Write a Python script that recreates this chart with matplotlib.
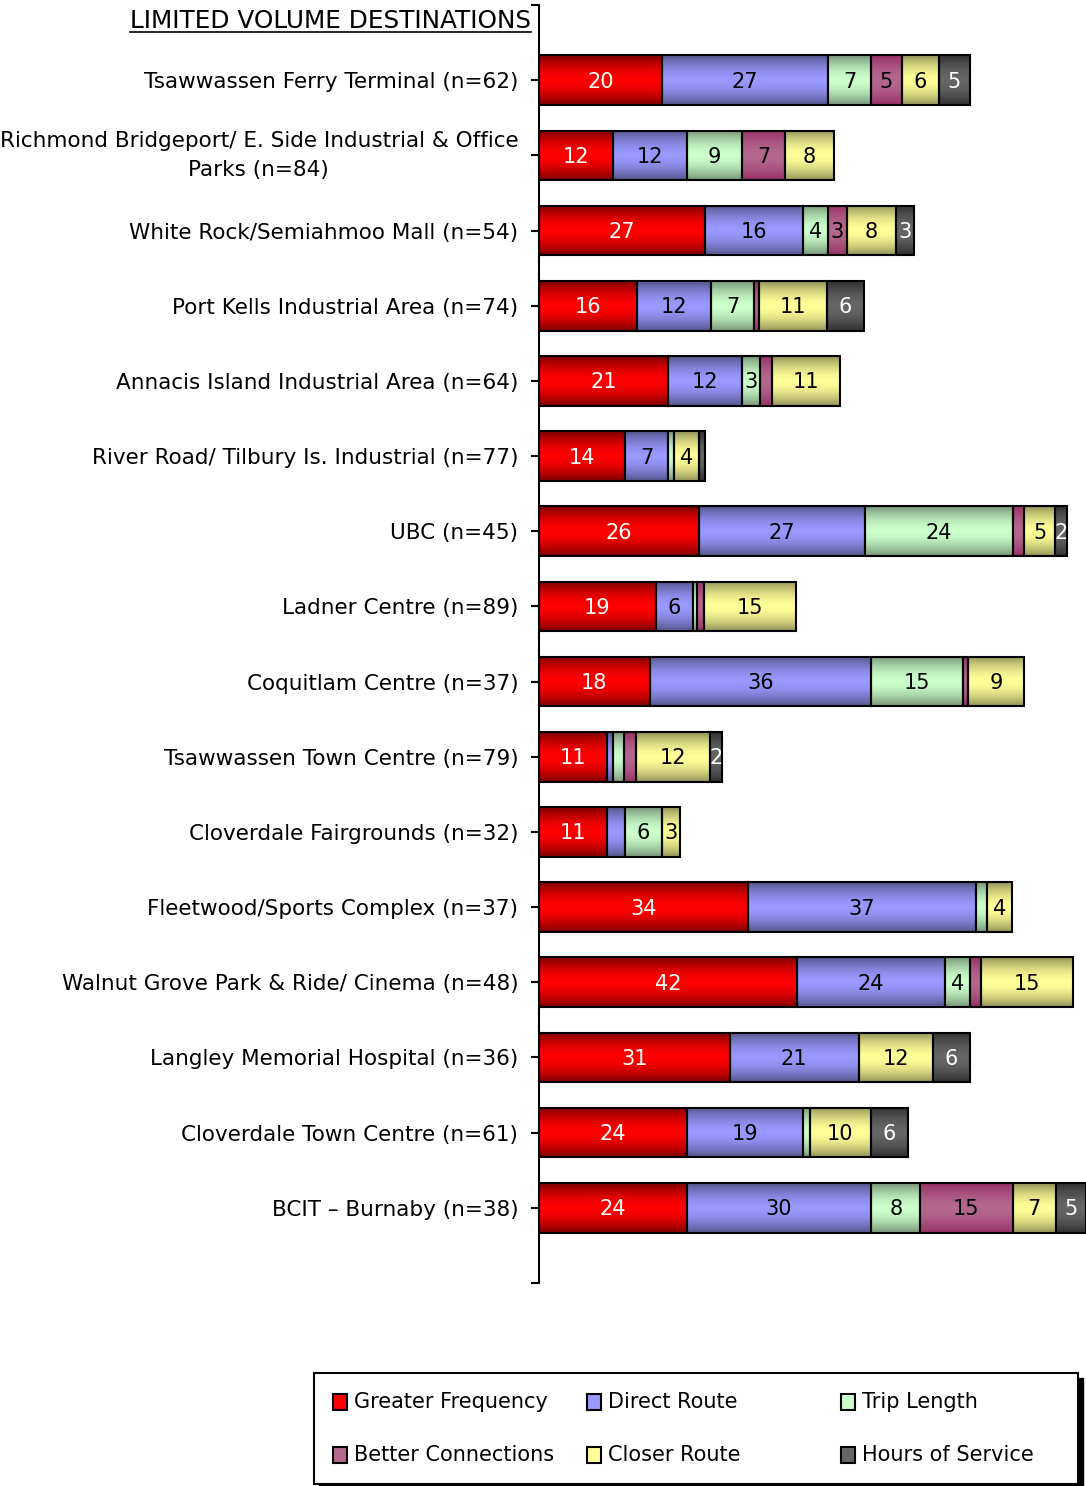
import numpy as np
import matplotlib.pyplot as plt
from matplotlib.patches import Rectangle
from matplotlib.lines import Line2D

plt.rcParams['font.family'] = 'DejaVu Sans'

destinations = [
    "Tsawwassen Ferry Terminal (n=62)",
    "Richmond Bridgeport/ E. Side Industrial & Office\nParks (n=84)",
    "White Rock/Semiahmoo Mall (n=54)",
    "Port Kells Industrial Area (n=74)",
    "Annacis Island Industrial Area (n=64)",
    "River Road/ Tilbury Is. Industrial (n=77)",
    "UBC (n=45)",
    "Ladner Centre (n=89)",
    "Coquitlam Centre (n=37)",
    "Tsawwassen Town Centre (n=79)",
    "Cloverdale Fairgrounds (n=32)",
    "Fleetwood/Sports Complex (n=37)",
    "Walnut Grove Park & Ride/ Cinema (n=48)",
    "Langley Memorial Hospital (n=36)",
    "Cloverdale Town Centre (n=61)",
    "BCIT \u2013 Burnaby (n=38)",
]

series_names = ["Greater Frequency", "Direct Route", "Trip Length",
                "Better Connections", "Closer Route", "Hours of Service"]

greater_frequency = [20, 12, 27, 16, 21, 14, 26, 19, 18, 11, 11, 34, 42, 31, 24, 24]
direct_route = [27, 12, 16, 12, 12, 7, 27, 6, 36, 1, 3, 37, 24, 21, 19, 30]
trip_length = [7, 9, 4, 7, 3, 1, 24, 0.7, 15, 1.9, 6, 1.9, 4, 0, 1, 8]
better_connections = [5, 7, 3, 0.8, 1.9, 0, 1.9, 1.1, 0.8, 1.9, 0, 0, 1.9, 0, 0, 15]
closer_route = [6, 8, 8, 11, 11, 4, 5, 15, 9, 12, 3, 4, 15, 12, 10, 7]
hours_of_service = [5, 0, 3, 6, 0, 1, 2, 0, 0, 2, 0, 0, 0, 6, 6, 5]

# segments whose value label is left off
hidden_labels = [(10, 1)]

# (centre colour, edge colour, label colour) for each series
styles = [
    ((255, 0, 0), (125, 0, 0), 'white'),
    ((153, 153, 255), (85, 85, 140), 'black'),
    ((204, 255, 204), (120, 150, 120), 'black'),
    ((180, 104, 142), (150, 48, 100), 'black'),
    ((255, 255, 153), (148, 148, 88), 'black'),
    ((102, 102, 102), (48, 48, 48), 'white'),
]


def gradient(mid, edge, n=64):
    t = np.abs(np.linspace(-1, 1, n)) ** 1.7
    mid = np.array(mid) / 255.0
    edge = np.array(edge) / 255.0
    return (mid[None, :] * (1 - t[:, None]) + edge[None, :] * t[:, None])[:, None, :]


W, H = 1086, 1486
fig = plt.figure(figsize=(W / 100, H / 100), dpi=100)
ax = fig.add_axes([539 / W, 1 - 1283 / H, 547 / W, 1278 / H])

data = [greater_frequency, direct_route, trip_length,
        better_connections, closer_route, hours_of_service]
y = np.arange(1, len(destinations) + 1)
left = np.zeros(len(destinations))

for s, (vals, (mid, edge, tcol)) in enumerate(zip(data, styles)):
    vals = np.array(vals, dtype=float)
    bars = ax.barh(y, vals, left=left, height=0.66, facecolor='none',
                   edgecolor='black', linewidth=1.5, zorder=3)
    grad = gradient(mid, edge)
    for r, (bar, v) in enumerate(zip(bars, vals)):
        if v <= 0:
            bar.set_visible(False)
            continue
        x0, y0 = bar.get_x(), bar.get_y()
        w, h = bar.get_width(), bar.get_height()
        ax.imshow(grad, extent=(x0, x0 + w, y0 + h, y0), aspect='auto',
                  interpolation='bilinear', zorder=2)
        if v >= 2 and (r, s) not in hidden_labels:
            ax.text(x0 + w / 2, y0 + h / 2 + 0.02, f"{int(round(v))}",
                    ha='center', va='center', color=tcol, fontsize=15,
                    zorder=4, clip_on=False)
    left += vals

ax.set_xlim(0, 547 / 6.15)
ax.set_ylim(17, 0)
ax.set_xticks([])
ax.set_yticks(np.arange(0, 18))
ax.set_yticklabels([""] + destinations + [""], fontsize=15.5)
for lbl in ax.get_yticklabels():
    if "\n" in lbl.get_text():
        lbl.set_multialignment('center')
        lbl.set_linespacing(1.6)
        lbl.set_verticalalignment('center')
ax.tick_params(axis='y', direction='out', length=6, width=1.5, pad=9)
for side in ['top', 'right', 'bottom']:
    ax.spines[side].set_visible(False)
ax.spines['left'].set_linewidth(1.5)

# title with underline
title = fig.text(531 / W, 1 - 21 / H, "LIMITED VOLUME DESTINATIONS",
                 ha='right', va='center', fontsize=17.8)
fig.canvas.draw()
bb = title.get_window_extent()
fig.add_artist(Line2D([bb.x0 / W, bb.x1 / W], [(bb.y0 + 1.5) / H] * 2,
                      transform=fig.transFigure, color='black', linewidth=1.2))

# legend box with shadow
lx, ly, lw, lh = 314, 1373, 764, 111
fig.add_artist(Rectangle(((lx + 5) / W, 1 - (ly + lh + 5) / H), lw / W, lh / H,
                         transform=fig.transFigure, facecolor='black',
                         edgecolor='black', zorder=1))
fig.add_artist(Rectangle((lx / W, 1 - (ly + lh) / H), lw / W, lh / H,
                         transform=fig.transFigure, facecolor='white',
                         edgecolor='black', linewidth=1.5, zorder=2))

col_x = [333, 587, 841]
row_y = [1402, 1455]
for s, name in enumerate(series_names):
    cx = col_x[s % 3]
    cy = row_y[s // 3]
    mid = np.array(styles[s][0]) / 255.0
    fig.add_artist(Rectangle((cx / W, 1 - (cy + 8) / H), 14 / W, 16 / H,
                             transform=fig.transFigure, facecolor=mid,
                             edgecolor='black', linewidth=1.5, zorder=3))
    fig.text((cx + 21) / W, 1 - cy / H, name, ha='left', va='center',
             fontsize=15, zorder=3)

fig.savefig('out.png', dpi=100)
